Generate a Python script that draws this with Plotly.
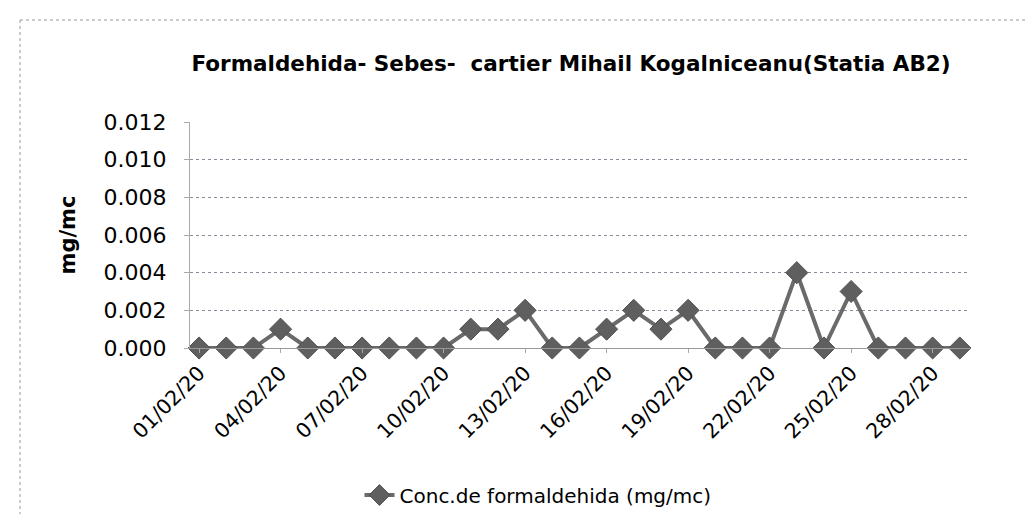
import plotly.graph_objects as go

dates = ["2020-02-%02d" % d for d in range(1, 30)]
values = [0, 0, 0, 0.001, 0, 0, 0, 0, 0, 0,
          0.001, 0.001, 0.002, 0, 0, 0.001, 0.002, 0.001, 0.002, 0,
          0, 0, 0.004, 0, 0.003, 0, 0, 0, 0]
tick_dates = ["2020-02-%02d" % d for d in range(1, 30, 3)]
tick_labels = ["%02d/02/20" % d for d in range(1, 30, 3)]
y_ticks = [0, 0.002, 0.004, 0.006, 0.008, 0.010, 0.012]

title = "Formaldehida- Sebes-  cartier Mihail Kogalniceanu(Statia AB2)"
series_name = "Conc.de formaldehida (mg/mc)"

FONT = "DejaVu Sans"

W, H = 1033, 514
L, R, T, B = 182, 71, 114, 174
pw, ph = W - L - R, H - T - B


def px(x):
    return (x - L) / pw


def py(y):
    return (H - B - y) / ph


fig = go.Figure()
fig.add_trace(go.Scatter(
    x=dates, y=values, mode="lines+markers", name=series_name,
    line=dict(color="#6a6a6a", width=4),
    marker=dict(symbol="diamond", size=17, color="#5f5f5f",
                line=dict(color="#505050", width=1)),
    cliponaxis=False,
))

fig.update_layout(
    width=W, height=H,
    paper_bgcolor="white", plot_bgcolor="white",
    margin=dict(l=L, r=R, t=T, b=B, autoexpand=False),
    font=dict(family=FONT, color="black"),
    title=dict(text="<b>" + title + "</b>", x=563 / W, xanchor="center",
               y=1 - 55 / H, yanchor="middle", font=dict(size=21.5, family=FONT)),
    showlegend=True,
    legend=dict(orientation="h", x=px(530), xanchor="center", y=py(487), yanchor="middle",
                font=dict(size=20, family=FONT)),
    xaxis=dict(
        type="date",
        range=["2020-01-31 16:00", "2020-02-29 09:00"],
        tickmode="array", tickvals=tick_dates, ticktext=tick_labels,
        tickangle=-45, tickfont=dict(size=20.5),
        showgrid=False, showline=True, linecolor="#999999", linewidth=1,
        ticks="outside", ticklen=4, tickcolor="#aaaaaa",
        zeroline=False,
    ),
    yaxis=dict(
        range=[0, 0.012], tickmode="array", tickvals=y_ticks,
        tickformat=".3f", tickfont=dict(size=22),
        ticklabelstandoff=13,
        showgrid=True, gridcolor="#8a8a9a", griddash="dot", gridwidth=1,
        showline=True, linecolor="#aaaaaa", linewidth=1,
        ticks="outside", ticklen=5, tickcolor="#aaaaaa",
        zeroline=False,
        title=dict(text="<b>mg/mc</b>", font=dict(size=21), standoff=22),
    ),
)

# dotted chart-area border (top and left edges)
fig.add_shape(type="line", xref="paper", yref="paper",
              x0=px(12), x1=px(1033), y0=py(12), y1=py(12),
              line=dict(color="#999999", width=1, dash="dot"))
fig.add_shape(type="line", xref="paper", yref="paper",
              x0=px(12), x1=px(12), y0=py(12), y1=py(514),
              line=dict(color="#999999", width=1, dash="dot"))

fig.write_html("out.html")
